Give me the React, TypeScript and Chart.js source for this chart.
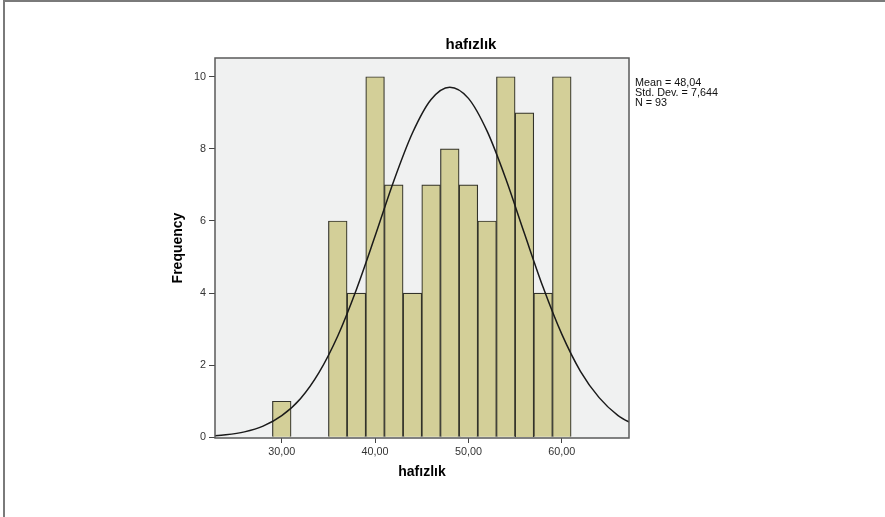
import React, { useEffect, useRef } from "react";
import { Chart, registerables } from "chart.js";

Chart.register(...registerables);

// Histogram bins (centre of each 2-unit bin) and their frequencies
const binCenters = [30, 36, 38, 40, 42, 44, 46, 48, 50, 52, 54, 56, 58, 60];
const frequencies = [1, 6, 4, 10, 7, 4, 7, 8, 7, 6, 10, 9, 4, 10];

// Normal curve
const curveX = [22, 24, 26, 28, 30, 32, 34, 36, 38, 40, 42, 44, 46, 48, 50, 52, 54, 56, 58, 60, 62, 64, 66, 68];
const curveY = [0.03, 0.07, 0.15, 0.31, 0.6, 1.07, 1.8, 2.81, 4.1, 5.58, 7.11, 8.44, 9.37, 9.71, 9.4, 8.49, 7.17, 5.65, 4.16, 2.86, 1.83, 1.1, 0.61, 0.32];

const xTicks = [30, 40, 50, 60];
const xTickLabels = ["30,00", "40,00", "50,00", "60,00"];
const yTicks = [0, 2, 4, 6, 8, 10];
const yTickLabels = ["0", "2", "4", "6", "8", "10"];

const chartTitle = "hafızlık";
const xTitle = "hafızlık";
const yTitle = "Frequency";
const statsLines = ["Mean = 48,04", "Std. Dev. = 7,644", "N = 93"];

const FONT = "'Liberation Sans', Arial, Helvetica, sans-serif";

const decorPlugin = {
  id: "decor",
  beforeDraw(chart: any) {
    const { ctx, chartArea: a, width, height } = chart;
    ctx.save();
    ctx.fillStyle = "#ffffff";
    ctx.fillRect(0, 0, width, height);
    ctx.fillStyle = "#f0f1f1";
    ctx.fillRect(a.left, a.top, a.right - a.left, a.bottom - a.top);
    ctx.strokeStyle = "#7a7a7a";
    ctx.lineWidth = 2;
    ctx.beginPath();
    ctx.moveTo(4, height);
    ctx.lineTo(4, 1);
    ctx.lineTo(width, 1);
    ctx.stroke();
    ctx.restore();
  },
  afterDraw(chart: any) {
    const { ctx, chartArea: a } = chart;
    ctx.save();
    ctx.strokeStyle = "#5a5a5a";
    ctx.lineWidth = 1.5;
    ctx.strokeRect(a.left, a.top, a.right - a.left, a.bottom - a.top);
    ctx.fillStyle = "#000";
    ctx.font = `bold 15px ${FONT}`;
    ctx.textAlign = "center";
    ctx.textBaseline = "middle";
    ctx.fillText(chartTitle, 471, 45);
    ctx.font = `10.8px ${FONT}`;
    ctx.textAlign = "left";
    ctx.fillStyle = "#111";
    statsLines.forEach((s, i) => ctx.fillText(s, a.right + 6, 83 + i * 10.2));
    ctx.restore();
  },
};

export default function App() {
  const ref = useRef<HTMLCanvasElement | null>(null);
  useEffect(() => {
    if (!ref.current) return;
    const chart = new Chart(ref.current, {
      type: "bar",
      data: {
        datasets: [
          {
            type: "line",
            data: curveX.map((x, i) => ({ x, y: curveY[i] })),
            borderColor: "#1a1a1a",
            borderWidth: 1.5,
            pointRadius: 0,
            fill: false,
            cubicInterpolationMode: "monotone",
            order: 0,
          } as any,
          {
            type: "bar",
            data: binCenters.map((x, i) => ({ x, y: frequencies[i] })),
            backgroundColor: "#d3cf98",
            borderColor: "#33332a",
            borderWidth: 1.2,
            barPercentage: 1,
            categoryPercentage: 1,
            order: 1,
          } as any,
        ],
      },
      options: {
        responsive: false,
        animation: false,
        devicePixelRatio: 1,
        layout: { padding: { left: 169.6, right: 256, top: 58, bottom: 36.6 } },
        plugins: { legend: { display: false }, tooltip: { enabled: false }, title: { display: false } },
        scales: {
          x: {
            type: "linear",
            min: 22.85,
            max: 67.2,
            offset: false,
            afterBuildTicks: (s: any) => {
              s.ticks = xTicks.map((v) => ({ value: v }));
            },
            afterFit: (s: any) => {
              s.height = 42.4;
            },
            ticks: {
              autoSkip: false,
              maxRotation: 0,
              padding: 3,
              color: "#333",
              font: { family: FONT, size: 10.8 },
              callback: (_v: any, i: number) => xTickLabels[i],
            },
            grid: { drawOnChartArea: false, drawTicks: true, tickLength: 5, color: "#444", offset: false },
            border: { display: false },
            title: { display: true, text: xTitle, color: "#000", padding: 0, font: { family: FONT, size: 14, weight: "bold" } },
          },
          y: {
            type: "linear",
            min: -0.02,
            max: 10.52,
            afterBuildTicks: (s: any) => {
              s.ticks = yTicks.map((v) => ({ value: v }));
            },
            afterFit: (s: any) => {
              s.width = 45.4;
            },
            ticks: {
              padding: 3,
              color: "#333",
              font: { family: FONT, size: 10.8 },
              callback: (_v: any, i: number) => yTickLabels[i],
            },
            grid: { drawOnChartArea: false, drawTicks: true, tickLength: 6, color: "#444" },
            border: { display: false },
            title: { display: true, text: yTitle, color: "#000", padding: 0, font: { family: FONT, size: 14, weight: "bold" } },
          },
        },
      } as any,
      plugins: [decorPlugin],
    });
    return () => chart.destroy();
  }, []);
  return (
    <div style={{ position: "absolute", left: 0, top: 0, width: 885, height: 517 }}>
      <canvas ref={ref} width={885} height={517} style={{ display: "block", width: 885, height: 517 }} />
    </div>
  );
}
